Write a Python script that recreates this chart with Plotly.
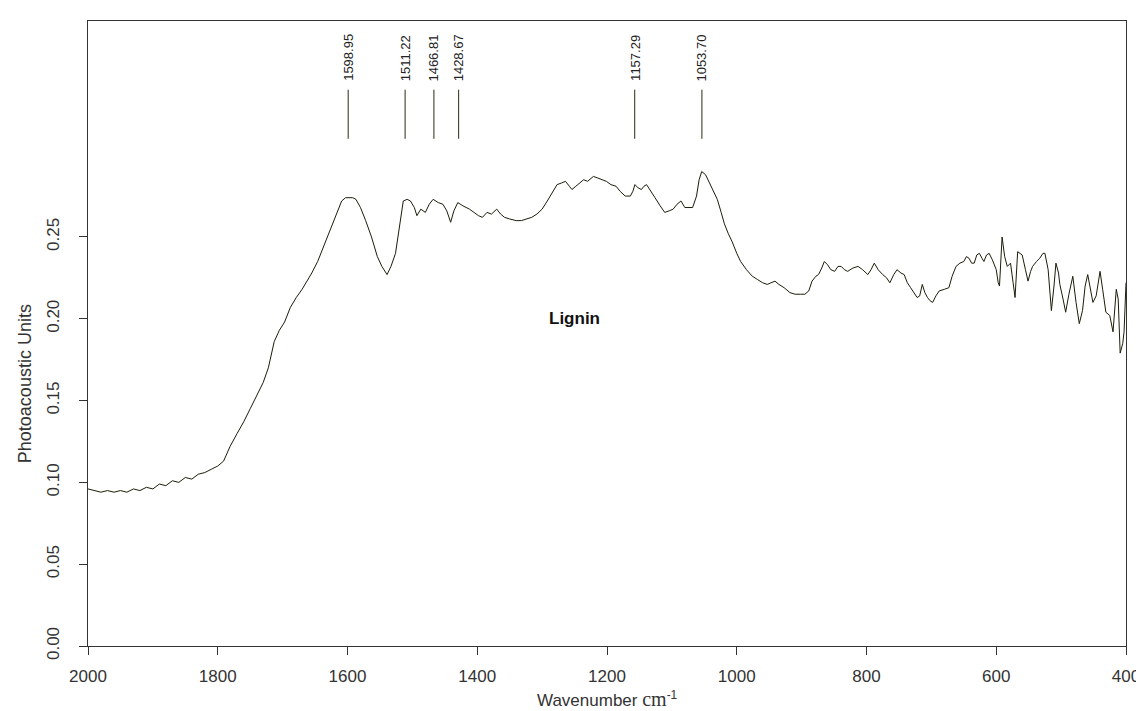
import plotly.graph_objects as go

# Spectrum (wavenumber cm-1, photoacoustic units)
wavenumber = [2000,1990,1980,1970,1960,1950,1940,1930,1920,1910,1900,1890,1880,1870,1860,1850,1840,1830,1820,1810,
              1800,1791,1781,1770,1760,1750,1740,1730,1722,1713,1705,1697,1688,1679,1670,1664,1655,1646,1640,1633,
              1627,1621,1615,1609,1603,1598,1592,1587,1580,1572,1563,1554,1547,1539,1533,1526,1520,1514,1508,1503,
              1497,1493,1487,1480,1474,1468,1460,1453,1447,1441,1436,1430,1422,1412,1405,1398,1392,1385,1378,1370,
              1364,1358,1350,1340,1332,1325,1316,1308,1300,1292,1285,1277,1270,1264,1258,1254,1248,1242,1236,1230,
              1225,1221,1214,1208,1201,1194,1186,1180,1172,1164,1160,1157,1152,1147,1143,1139,1133,1126,1118,1111,
              1104,1098,1092,1086,1080,1074,1068,1062,1058,1054,1048,1042,1036,1030,1024,1019,1013,1007,1000,994,
              985,976,968,960,953,947,941,935,927,918,910,902,895,889,884,878,874,869,865,860,
              855,849,844,839,834,829,821,813,806,798,793,788,782,775,769,764,758,753,747,742,
              737,732,727,722,718,714,710,706,702,698,693,688,680,673,668,662,656,650,646,642,
              638,634,630,626,622,619,615,611,606,600,597,595,591,587,583,578,574,571,567,563,
              560,555,551,547,544,538,533,528,525,520,515,511,508,504,502,497,493,488,482,477,
              472,467,463,459,455,451,446,443,440,436,431,425,420,415,412,409,405,403,400]
absorbance = [0.096,0.095,0.094,0.095,0.094,0.095,0.094,0.096,0.095,0.097,0.096,0.099,0.098,0.101,0.100,0.103,0.102,0.105,0.106,0.108,
              0.110,0.113,0.122,0.130,0.137,0.145,0.153,0.161,0.170,0.186,0.193,0.198,0.207,0.213,0.218,0.222,0.228,0.235,0.241,0.249,
              0.255,0.261,0.267,0.272,0.274,0.274,0.274,0.273,0.268,0.260,0.250,0.238,0.232,0.227,0.232,0.240,0.257,0.272,0.273,0.272,
              0.268,0.263,0.267,0.265,0.270,0.273,0.271,0.270,0.266,0.259,0.266,0.271,0.269,0.267,0.265,0.263,0.262,0.265,0.264,0.267,
              0.264,0.262,0.261,0.260,0.260,0.261,0.262,0.264,0.267,0.272,0.277,0.282,0.283,0.284,0.281,0.279,0.281,0.283,0.285,0.284,
              0.286,0.287,0.286,0.285,0.284,0.282,0.281,0.278,0.275,0.275,0.278,0.282,0.280,0.279,0.281,0.282,0.278,0.274,0.269,0.265,
              0.266,0.267,0.270,0.272,0.268,0.268,0.268,0.275,0.285,0.290,0.288,0.283,0.278,0.273,0.265,0.258,0.252,0.247,0.240,0.235,
              0.230,0.226,0.224,0.222,0.221,0.222,0.223,0.221,0.219,0.216,0.215,0.215,0.215,0.217,0.223,0.226,0.227,0.231,0.235,0.233,
              0.230,0.229,0.232,0.232,0.230,0.229,0.231,0.232,0.230,0.227,0.230,0.234,0.230,0.227,0.225,0.222,0.227,0.230,0.228,0.227,
              0.222,0.219,0.216,0.213,0.214,0.221,0.216,0.213,0.211,0.210,0.214,0.217,0.218,0.219,0.226,0.232,0.234,0.235,0.238,0.237,
              0.234,0.234,0.239,0.240,0.237,0.235,0.239,0.240,0.236,0.230,0.222,0.220,0.250,0.238,0.232,0.234,0.222,0.213,0.241,0.240,
              0.239,0.230,0.223,0.229,0.232,0.235,0.237,0.240,0.240,0.230,0.205,0.220,0.234,0.228,0.221,0.212,0.204,0.215,0.226,0.210,
              0.197,0.205,0.220,0.227,0.218,0.210,0.214,0.222,0.229,0.218,0.204,0.202,0.192,0.218,0.212,0.179,0.185,0.192,0.222]

# Marked peaks
peak_positions = [1598.95, 1511.22, 1466.81, 1428.67, 1157.29, 1053.70]
peak_labels = ["1598.95", "1511.22", "1466.81", "1428.67", "1157.29", "1053.70"]
x_ticks = [2000, 1800, 1600, 1400, 1200, 1000, 800, 600, 400]
y_ticks = [0.00, 0.05, 0.10, 0.15, 0.20, 0.25]
y_tick_labels = ["0.00", "0.05", "0.10", "0.15", "0.20", "0.25"]

MARK_LOW, MARK_HIGH, LABEL_Y = 0.310, 0.340, 0.344
SANS = "Liberation Sans, Arial"
TXT = "#333333"

fig = go.Figure()
fig.add_trace(go.Scatter(x=wavenumber, y=absorbance, mode="lines",
                         line=dict(color="#1c1c08", width=1), showlegend=False, hoverinfo="skip"))

mx, my = [], []
for p in peak_positions:
    mx += [p, p, None]
    my += [MARK_LOW, MARK_HIGH, None]
fig.add_trace(go.Scatter(x=mx, y=my, mode="lines", line=dict(color="#2a2a10", width=1),
                         showlegend=False, hoverinfo="skip"))

for p, lab in zip(peak_positions, peak_labels):
    fig.add_annotation(x=p, y=LABEL_Y, text=lab, textangle=-90, showarrow=False,
                       xanchor="center", yanchor="bottom",
                       font=dict(family=SANS, size=13, color="#222"))

fig.add_annotation(x=1250, y=0.200, text="<b>Lignin</b>", showarrow=False,
                   font=dict(family=SANS, size=17, color="#111"))

# Axis titles
fig.add_annotation(xref="paper", yref="paper", x=0.5, y=-0.0845, xanchor="center", yanchor="middle",
                   text="Wavenumber <span style='font-family:Liberation Serif;font-size:20px'>cm</span><sup>-1</sup>",
                   showarrow=False, font=dict(family=SANS, size=17, color=TXT))
fig.add_annotation(xref="paper", yref="paper", x=-0.061, y=0.42, xanchor="center", yanchor="middle",
                   text="Photoacoustic Units", textangle=-90,
                   showarrow=False, font=dict(family=SANS, size=18, color=TXT))

fig.update_layout(
    width=1144, height=711,
    margin=dict(l=80, r=17, t=12, b=73),
    paper_bgcolor="white", plot_bgcolor="white",
    font=dict(family=SANS, size=17, color=TXT),
    xaxis=dict(range=[2000, 400], tickvals=x_ticks, ticks="outside", ticklen=8,
               tickcolor="#333", showline=True, linecolor="#333", linewidth=1, mirror=True,
               showgrid=False, zeroline=False, ticklabelstandoff=7),
    yaxis=dict(range=[0, 0.382], tickvals=y_ticks, ticktext=y_tick_labels, tickangle=-90,
               ticks="outside", ticklen=8, tickcolor="#333", showline=True, linecolor="#333",
               linewidth=1, mirror=True, showgrid=False, zeroline=False, ticklabelstandoff=13),
)

fig.write_html("out.html")
